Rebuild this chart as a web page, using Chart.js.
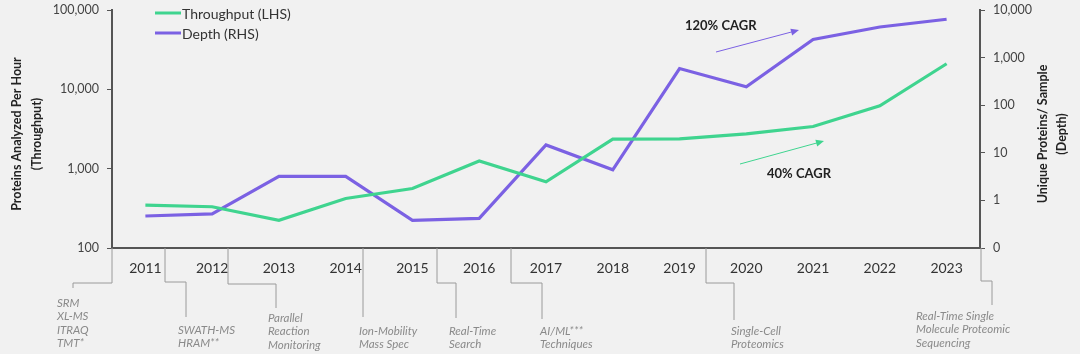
<!DOCTYPE html>
<html>
<head>
<meta charset="utf-8">
<script src="https://cdn.jsdelivr.net/npm/chart.js@4.4.1/dist/chart.umd.min.js"></script>
<style>
  html, body { margin: 0; padding: 0; background: #f1f1f1; }
</style>
</head>
<body>
<canvas id="proteomicsChart" width="1080" height="354"></canvas>
<script>
const years = ['2011', '2012', '2013', '2014', '2015', '2016', '2017', '2018', '2019', '2020', '2021', '2022', '2023'];
const throughput = [348, 331, 223, 421, 563, 1250, 684, 2360, 2380, 2750, 3400, 6200, 21000];
const depth = [0.47, 0.52, 3.2, 3.2, 0.38, 0.42, 14.6, 4.4, 590, 244, 2400, 4400, 6400];
const leftTicks = [100, 1000, 10000, 100000];
const rightTicks = [0.1, 1, 10, 100, 1000, 10000];
const milestones = [
  ['SRM', 'XL-MS', 'ITRAQ', 'TMT*'],
  ['SWATH-MS', 'HRAM**'],
  ['Parallel', 'Reaction', 'Monitoring'],
  ['Ion-Mobility', 'Mass Spec'],
  ['Real-Time', 'Search'],
  ['AI/ML***', 'Techniques'],
  ['Single-Cell', 'Proteomics'],
  ['Real-Time Single', 'Molecule Proteomic', 'Sequencing']
];
const cagrLabels = ['120% CAGR', '40% CAGR'];

const GREEN = '#3fd48f';
const PURPLE = '#7b61e3';
const AXIS = '#555';
const FONT = 'Lato, "Open Sans", sans-serif';

const fmt = v => v < 1 ? '0' : Number(v).toLocaleString('en-US');

// connector path (x0 at axis, elbow y, x1, end y) and text anchor for each milestone
const milestoneLayout = [
  { x0: 112, ey: 283, x1: 73, y1: 288, tx: 57, ty: 303 },
  { x0: 165, ey: 282, x1: 186, y1: 317, tx: 178, ty: 330 },
  { x0: 228, ey: 284, x1: 276, y1: 308, tx: 268, ty: 318 },
  { x0: 363, ey: 317, x1: 363, y1: 317, tx: 359, ty: 331 },
  { x0: 437, ey: 283, x1: 456, y1: 318, tx: 449, ty: 331 },
  { x0: 511, ey: 283, x1: 542, y1: 319, tx: 540, ty: 331 },
  { x0: 706, ey: 283, x1: 734, y1: 320, tx: 731, ty: 331 },
  { x0: 981, ey: 281, x1: 992, y1: 305, tx: 916, ty: 316 }
];

function arrow(ctx, x0, y0, x1, y1, color) {
  ctx.save();
  ctx.strokeStyle = color;
  ctx.fillStyle = color;
  ctx.lineWidth = 1;
  const a = Math.atan2(y1 - y0, x1 - x0);
  ctx.beginPath();
  ctx.moveTo(x0, y0);
  ctx.lineTo(x1 - 6 * Math.cos(a), y1 - 6 * Math.sin(a));
  ctx.stroke();
  ctx.beginPath();
  ctx.moveTo(x1, y1);
  ctx.lineTo(x1 - 8 * Math.cos(a) + 3.5 * Math.sin(a), y1 - 8 * Math.sin(a) - 3.5 * Math.cos(a));
  ctx.lineTo(x1 - 8 * Math.cos(a) - 3.5 * Math.sin(a), y1 - 8 * Math.sin(a) + 3.5 * Math.cos(a));
  ctx.closePath();
  ctx.fill();
  ctx.restore();
}

const decorations = {
  id: 'decorations',
  afterDraw(chart) {
    const { ctx, chartArea } = chart;
    ctx.save();

    // axis titles, both reading bottom to top
    ctx.fillStyle = '#222';
    ctx.font = 'bold 12.5px ' + FONT;
    ctx.textAlign = 'center';
    ctx.textBaseline = 'middle';
    [[17, 'Proteins Analyzed Per Hour'], [37, '(Throughput)'],
     [1043, 'Unique Proteins/ Sample'], [1062, '(Depth)']].forEach(([x, t]) => {
      ctx.save();
      ctx.translate(x, 134);
      ctx.rotate(-Math.PI / 2);
      ctx.fillText(t, 0, 0);
      ctx.restore();
    });

    // legend
    ctx.font = '14px ' + FONT;
    ctx.textAlign = 'left';
    chart.data.datasets.forEach((ds, i) => {
      const y = 13 + i * 20;
      ctx.strokeStyle = ds.borderColor;
      ctx.lineWidth = 3;
      ctx.beginPath();
      ctx.moveTo(155, y);
      ctx.lineTo(181, y);
      ctx.stroke();
      ctx.fillStyle = '#333';
      ctx.fillText(ds.label, 182, y + 1);
    });

    // CAGR notes
    ctx.font = 'bold 13px ' + FONT;
    ctx.fillStyle = '#222';
    ctx.fillText(cagrLabels[0], 685, 26);
    ctx.fillText(cagrLabels[1], 767, 174);
    arrow(ctx, 716, 52, 799, 30, PURPLE);
    arrow(ctx, 740, 164, 824, 141, GREEN);

    // milestones below the axis
    ctx.strokeStyle = '#9a9a9a';
    ctx.lineWidth = 1;
    ctx.font = 'italic 11.5px ' + FONT;
    ctx.fillStyle = '#8a8a8a';
    ctx.textBaseline = 'middle';
    milestones.forEach((lines, i) => {
      const m = milestoneLayout[i];
      ctx.beginPath();
      ctx.moveTo(m.x0, chartArea.bottom);
      ctx.lineTo(m.x0, m.ey);
      ctx.lineTo(m.x1, m.ey);
      ctx.lineTo(m.x1, m.y1);
      ctx.stroke();
      lines.forEach((t, j) => ctx.fillText(t, m.tx, m.ty + j * 13.4));
    });

    ctx.restore();
  }
};

new Chart(document.getElementById('proteomicsChart'), {
  type: 'line',
  plugins: [decorations],
  data: {
    labels: years,
    datasets: [
      {
        label: 'Throughput (LHS)',
        data: throughput,
        yAxisID: 'y',
        borderColor: GREEN,
        borderWidth: 3.2,
        pointRadius: 0,
        tension: 0
      },
      {
        label: 'Depth (RHS)',
        data: depth,
        yAxisID: 'y1',
        borderColor: PURPLE,
        borderWidth: 3.2,
        pointRadius: 0,
        tension: 0
      }
    ]
  },
  options: {
    responsive: false,
    animation: false,
    layout: { padding: { top: 10, left: 0, right: 0, bottom: 0 } },
    plugins: {
      legend: { display: false },
      tooltip: { enabled: false }
    },
    scales: {
      x: {
        type: 'category',
        offset: true,
        grid: { display: false, drawTicks: false },
        border: { display: true, color: AXIS, width: 2 },
        ticks: { color: '#333', font: { family: FONT, size: 14 }, padding: 12, maxRotation: 0 },
        afterFit(s) { s.height = 106; s.paddingLeft = 0; s.paddingRight = 0; }
      },
      y: {
        type: 'logarithmic',
        position: 'left',
        min: 100,
        max: 100000,
        afterBuildTicks(s) { s.ticks = leftTicks.map(v => ({ value: v })); },
        grid: { drawOnChartArea: false, drawTicks: true, tickLength: 5, color: AXIS },
        border: { display: true, color: AXIS, width: 2 },
        ticks: { color: '#444', font: { family: FONT, size: 12.5 }, padding: 8, callback: v => fmt(v) },
        afterFit(s) { s.width = 112; s.paddingTop = 0; s.paddingBottom = 0; }
      },
      y1: {
        type: 'logarithmic',
        position: 'right',
        min: 0.1,
        max: 10000,
        afterBuildTicks(s) { s.ticks = rightTicks.map(v => ({ value: v })); },
        grid: { drawOnChartArea: false, drawTicks: true, tickLength: 5, color: AXIS },
        border: { display: true, color: AXIS, width: 2 },
        ticks: { color: '#444', font: { family: FONT, size: 12.5 }, padding: 8, callback: v => fmt(v) },
        afterFit(s) { s.width = 100; s.paddingTop = 0; s.paddingBottom = 0; }
      }
    }
  }
});
</script>
</body>
</html>
